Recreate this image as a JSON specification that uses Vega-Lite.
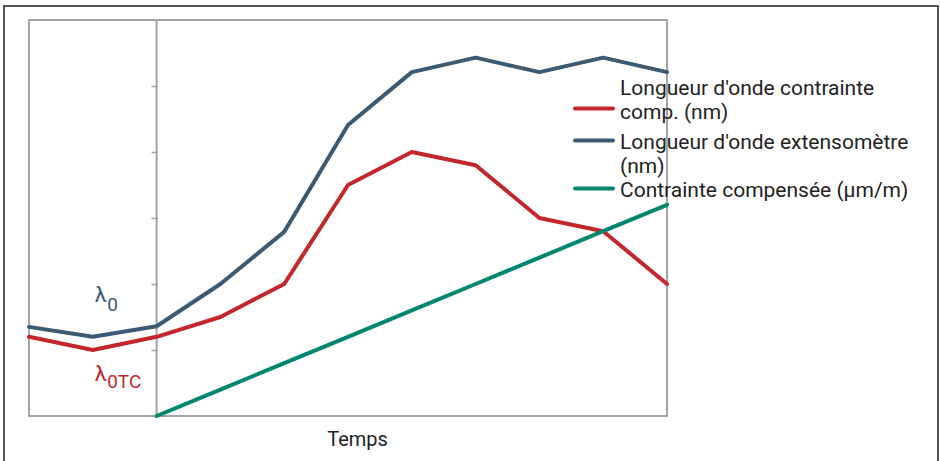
{
  "$schema": "https://vega.github.io/schema/vega-lite/v6.json",
  "width": 934,
  "height": 460,
  "autosize": {"type": "none"},
  "padding": {"left": 4, "top": 6, "right": 2, "bottom": -5},
  "background": "white",
  "config": {
    "view": {"stroke": "#1e1e1e", "strokeWidth": 1.5},
    "font": "Roboto",
    "axis": {"grid": false}
  },
  "datasets": {
    "frame": [{"x": 0, "x2": 10, "y": 0, "y2": 6}],
    "axisline": [{"x": 2, "y": 0, "y2": 6}],
    "lines": [
      {"x": 0, "y": 1.2, "series": "Longueur d'onde contrainte comp. (nm)"},
      {"x": 1, "y": 1.0, "series": "Longueur d'onde contrainte comp. (nm)"},
      {"x": 2, "y": 1.2, "series": "Longueur d'onde contrainte comp. (nm)"},
      {"x": 3, "y": 1.5, "series": "Longueur d'onde contrainte comp. (nm)"},
      {"x": 4, "y": 2.0, "series": "Longueur d'onde contrainte comp. (nm)"},
      {"x": 5, "y": 3.5, "series": "Longueur d'onde contrainte comp. (nm)"},
      {"x": 6, "y": 4.0, "series": "Longueur d'onde contrainte comp. (nm)"},
      {"x": 7, "y": 3.8, "series": "Longueur d'onde contrainte comp. (nm)"},
      {"x": 8, "y": 3.0, "series": "Longueur d'onde contrainte comp. (nm)"},
      {"x": 9, "y": 2.8, "series": "Longueur d'onde contrainte comp. (nm)"},
      {"x": 10, "y": 2.0, "series": "Longueur d'onde contrainte comp. (nm)"},
      {"x": 0, "y": 1.35, "series": "Longueur d'onde extensomètre (nm)"},
      {"x": 1, "y": 1.2, "series": "Longueur d'onde extensomètre (nm)"},
      {"x": 2, "y": 1.36, "series": "Longueur d'onde extensomètre (nm)"},
      {"x": 3, "y": 2.0, "series": "Longueur d'onde extensomètre (nm)"},
      {"x": 4, "y": 2.79, "series": "Longueur d'onde extensomètre (nm)"},
      {"x": 5, "y": 4.41, "series": "Longueur d'onde extensomètre (nm)"},
      {"x": 6, "y": 5.21, "series": "Longueur d'onde extensomètre (nm)"},
      {"x": 7, "y": 5.43, "series": "Longueur d'onde extensomètre (nm)"},
      {"x": 8, "y": 5.21, "series": "Longueur d'onde extensomètre (nm)"},
      {"x": 9, "y": 5.43, "series": "Longueur d'onde extensomètre (nm)"},
      {"x": 10, "y": 5.21, "series": "Longueur d'onde extensomètre (nm)"},
      {"x": 2, "y": 0.0, "series": "Contrainte compensée (µm/m)"},
      {"x": 3, "y": 0.4, "series": "Contrainte compensée (µm/m)"},
      {"x": 4, "y": 0.8, "series": "Contrainte compensée (µm/m)"},
      {"x": 5, "y": 1.2, "series": "Contrainte compensée (µm/m)"},
      {"x": 6, "y": 1.6, "series": "Contrainte compensée (µm/m)"},
      {"x": 7, "y": 2.0, "series": "Contrainte compensée (µm/m)"},
      {"x": 8, "y": 2.4, "series": "Contrainte compensée (µm/m)"},
      {"x": 9, "y": 2.8, "series": "Contrainte compensée (µm/m)"},
      {"x": 10, "y": 3.2, "series": "Contrainte compensée (µm/m)"}
    ],
    "lam": [
      {"x": 1.03, "y": 1.727, "t": "λ", "series": "Longueur d'onde extensomètre (nm)"},
      {"x": 1.03, "y": 0.53, "t": "λ", "series": "Longueur d'onde contrainte comp. (nm)"}
    ],
    "sub": [
      {"x": 1.225, "y": 1.591, "t": "0", "series": "Longueur d'onde extensomètre (nm)"},
      {"x": 1.225, "y": 0.424, "t": "0TC", "series": "Longueur d'onde contrainte comp. (nm)"}
    ]
  },
  "layer": [
    {
      "data": {"name": "frame"},
      "mark": {"type": "rect", "fillOpacity": 0, "stroke": "#a3a3a6", "strokeWidth": 2},
      "encoding": {
        "x": {"field": "x", "type": "quantitative", "scale": {"domain": [-0.3918, 14.247], "nice": false, "zero": false}},
        "x2": {"field": "x2"},
        "y": {"field": "y", "type": "quantitative", "scale": {"domain": [-0.7576, 6.2121], "nice": false, "zero": false}},
        "y2": {"field": "y2"}
      }
    },
    {
      "data": {"name": "axisline"},
      "mark": {"type": "rule", "stroke": "#a3a3a6", "strokeWidth": 2},
      "encoding": {
        "x": {"field": "x", "type": "quantitative", "scale": {"domain": [-0.3918, 14.247], "nice": false, "zero": false}},
        "y": {"field": "y", "type": "quantitative", "scale": {"domain": [-0.7576, 6.2121], "nice": false, "zero": false}},
        "y2": {"field": "y2"}
      }
    },
    {
      "data": {"name": "lines"},
      "mark": {"type": "line", "strokeWidth": 4, "strokeCap": "round", "strokeJoin": "round"},
      "encoding": {
        "x": {
          "field": "x", "type": "quantitative",
          "scale": {"domain": [-0.3918, 14.247], "nice": false, "zero": false},
          "axis": {"orient": "bottom", "offset": -50, "domain": false, "ticks": false, "labels": false, "grid": false,
                   "title": "Temps", "titleFont": "Roboto", "titleFontSize": 20, "titleFontWeight": "normal",
                   "titleColor": "#222222", "titlePadding": 13, "titleX": 353}
        },
        "y": {
          "field": "y", "type": "quantitative",
          "scale": {"domain": [-0.7576, 6.2121], "nice": false, "zero": false},
          "axis": {"orient": "left", "offset": -153, "domain": false, "labels": false, "grid": false,
                   "ticks": true, "tickSize": 6, "tickColor": "#a3a3a6", "tickWidth": 1.5,
                   "values": [1, 2, 3, 4, 5], "title": null}
        },
        "color": {
          "field": "series", "type": "nominal",
          "scale": {"domain": ["Longueur d'onde contrainte comp. (nm)", "Longueur d'onde extensomètre (nm)", "Contrainte compensée (µm/m)"],
                    "range": ["#c4262e", "#3d5a73", "#00876e"]},
          "legend": {
            "orient": "none", "legendX": 578.5, "legendY": 91, "title": null, "padding": 0,
            "labelFont": "Roboto", "labelFontSize": 21, "labelColor": "#222222", "labelLimit": 400,
            "labelOffset": 14.5, "symbolType": "M-2,0L2,0", "symbolSize": 361, "symbolStrokeWidth": 4,
            "rowPadding": 0,
            "labelExpr": "datum.value === \"Longueur d'onde contrainte comp. (nm)\" ? [\"Longueur d'onde contrainte\", \"comp. (nm)\"] : datum.value === \"Longueur d'onde extensomètre (nm)\" ? [\"Longueur d'onde extensomètre\", \"(nm)\"] : datum.label",
            "encode": {
              "labels": {"update": {"lineHeight": {"value": 24}, "dy": {"signal": "datum.index === 0 ? -20 : 2"}}},
              "symbols": {"update": {"strokeCap": {"value": "round"}, "fillOpacity": {"value": 0},
                                     "shape": {"signal": "datum.index === 0 ? 'M-2,0L2,0M0,1.3' : 'M-2,0L2,0'"}}}
            }
          }
        }
      }
    },
    {
      "data": {"name": "lam"},
      "mark": {"type": "text", "align": "left", "baseline": "alphabetic", "fontSize": 22, "font": "Roboto"},
      "encoding": {
        "x": {"field": "x", "type": "quantitative", "scale": {"domain": [-0.3918, 14.247], "nice": false, "zero": false}},
        "y": {"field": "y", "type": "quantitative", "scale": {"domain": [-0.7576, 6.2121], "nice": false, "zero": false}},
        "text": {"field": "t"},
        "color": {"field": "series", "type": "nominal", "legend": null,
                  "scale": {"domain": ["Longueur d'onde contrainte comp. (nm)", "Longueur d'onde extensomètre (nm)", "Contrainte compensée (µm/m)"],
                            "range": ["#c4262e", "#3d5a73", "#00876e"]}}
      }
    },
    {
      "data": {"name": "sub"},
      "mark": {"type": "text", "align": "left", "baseline": "alphabetic", "fontSize": 19, "font": "Roboto"},
      "encoding": {
        "x": {"field": "x", "type": "quantitative", "scale": {"domain": [-0.3918, 14.247], "nice": false, "zero": false}},
        "y": {"field": "y", "type": "quantitative", "scale": {"domain": [-0.7576, 6.2121], "nice": false, "zero": false}},
        "text": {"field": "t"},
        "color": {"field": "series", "type": "nominal", "legend": null,
                  "scale": {"domain": ["Longueur d'onde contrainte comp. (nm)", "Longueur d'onde extensomètre (nm)", "Contrainte compensée (µm/m)"],
                            "range": ["#c4262e", "#3d5a73", "#00876e"]}}
      }
    }
  ]
}
